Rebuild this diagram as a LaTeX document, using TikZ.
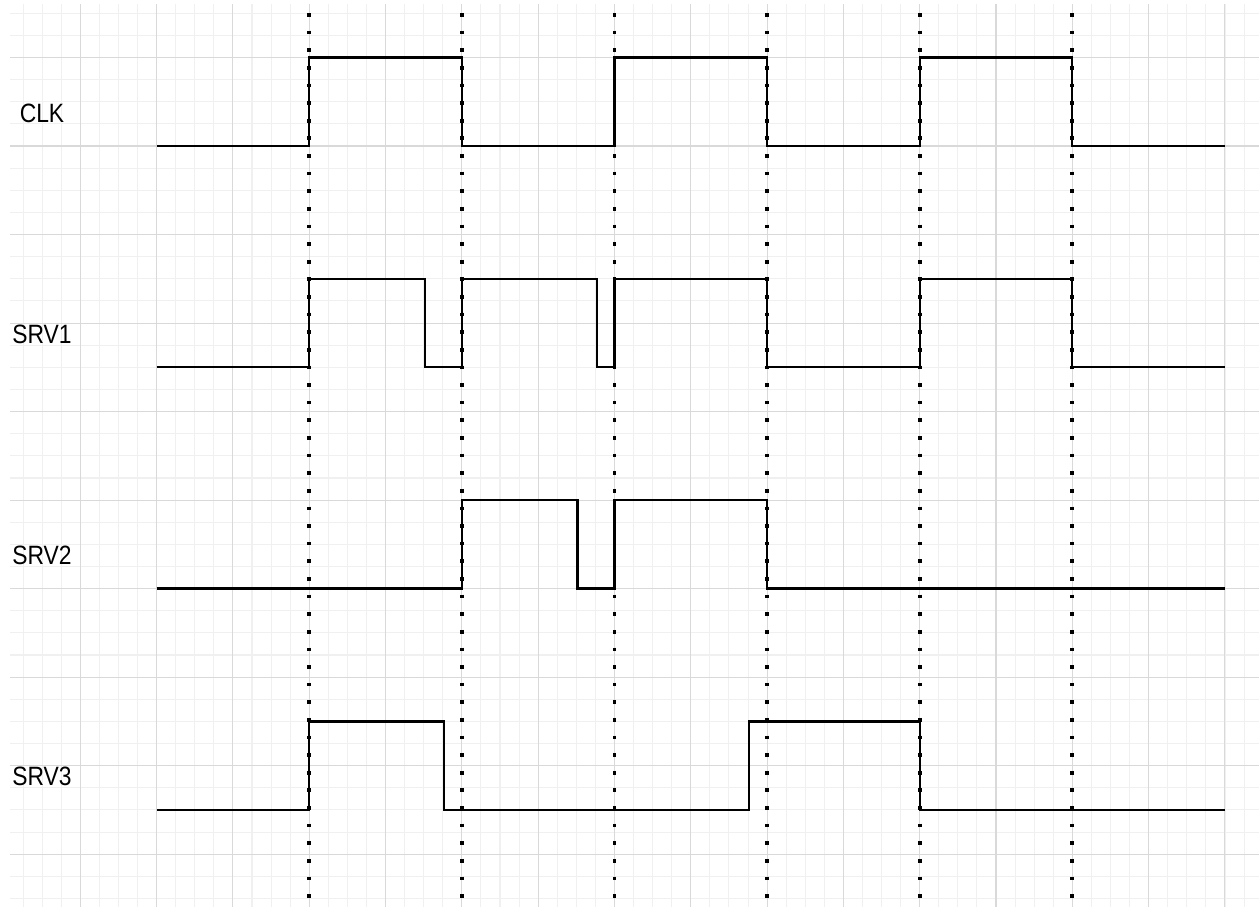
\documentclass[tikz,border=0pt]{standalone}
\usepackage{fontspec}
\setmainfont{Liberation Sans}
\begin{document}
\begin{tikzpicture}[x=0.02cm,y=-0.02cm,
  minorgrid/.style={draw=black!6, line width=0.6pt},
  majorgrid/.style={draw=black!15, line width=0.6pt},
  signal/.style={line width=1.3pt, line join=miter},
  clockmark/.style={line width=2.1pt, dash pattern=on 2.1pt off 7.93pt},
  lab/.style={font=\fontsize{13}{15}\selectfont, inner sep=0pt}]
\path[use as bounding box] (0,0) rectangle (1259,907);
\fill[white] (0,0) rectangle (1259,907);
\begin{scope}
  \clip (10,4) rectangle (1259,907);
  \foreach \k in {-3,...,61} \draw[minorgrid] ({80.3+\k*19.078},4) -- ({80.3+\k*19.078},907);
  \foreach \k in {-2,...,38} \draw[minorgrid] (10,{57.5+\k*22.13}) -- (1259,{57.5+\k*22.13});
  \foreach \k in {0,...,15} \draw[majorgrid] ({80.3+\k*76.31},4) -- ({80.3+\k*76.31},907);
  \foreach \k in {0,...,9} \draw[majorgrid] (10,{57.5+\k*88.52}) -- (1259,{57.5+\k*88.52});
\end{scope}
% clock edge markers
\foreach \x in {309.2,461.9,614.5,767.1,919.7,1072.3}
  \draw[clockmark] (\x,13.1) -- (\x,907);
% labels
\node[lab] (lclk) at (42,113) {\scalebox{1}[1.16]{CLK}};
\node[lab] (lsrv1) at (42,334) {\scalebox{1}[1.16]{SRV1}};
\node[lab] (lsrv2) at (42,555) {\scalebox{1}[1.16]{SRV2}};
\node[lab] (lsrv3) at (42,776) {\scalebox{1}[1.16]{SRV3}};
% signals
\draw[signal] (156.6,146) -| (309.2,57.5) -| (461.9,146) -| (614.5,57.5) -| (767.1,146) -| (919.7,57.5) -| (1072.3,146) -- (1224.9,146);
\draw[signal] (156.6,367.3) -| (309.2,278.8) -| (425,367.3) -| (461.9,278.8) -| (597,367.3) -| (614.5,278.8) -| (767.1,367.3) -| (919.7,278.8) -| (1072.3,367.3) -- (1224.9,367.3);
\draw[signal] (156.6,588.6) -| (461.9,500.1) -| (577.5,588.6) -| (614.5,500.1) -| (767.1,588.6) -- (1224.9,588.6);
\draw[signal] (156.6,809.9) -| (309.2,721.4) -| (444,809.9) -| (749,721.4) -| (919.7,809.9) -- (1224.9,809.9);
\end{tikzpicture}
\end{document}
